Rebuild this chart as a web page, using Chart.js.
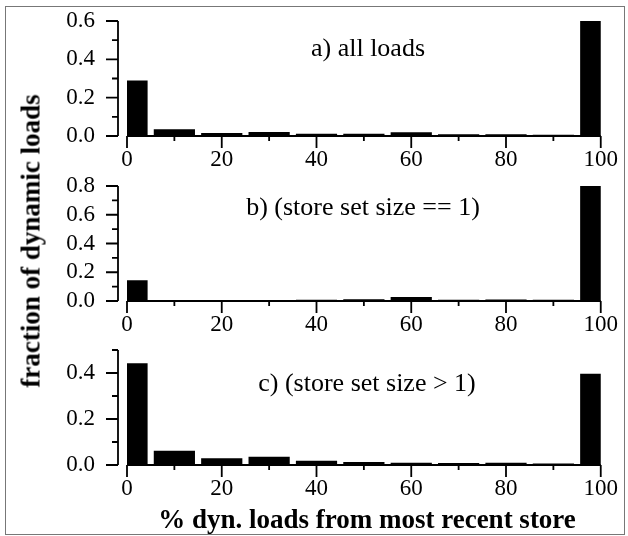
<!DOCTYPE html>
<html>
<head>
<meta charset="utf-8">
<script src="https://cdn.jsdelivr.net/npm/chart.js@4.4.1/dist/chart.umd.min.js"></script>
<style>
  body { margin: 0; background: #fff; }
  #fig { position: relative; width: 628px; height: 536px; }
  #frame { position: absolute; left: 5px; top: 6px; width: 620px; height: 529px; border: 1.5px solid #777; box-sizing: border-box; }
  canvas { position: absolute; left: 0; }
  .txt { position: absolute; font-family: "Liberation Serif", serif; white-space: nowrap; transform: translate(-50%, -50%); color: #000; }
  .sub { font-size: 26px; }
  .ttl { font-size: 27px; font-weight: bold; }
</style>
</head>
<body>
<div id="fig">
  <div id="frame"></div>
  <canvas id="chartA" width="628" height="170" style="top:1px"></canvas>
  <canvas id="chartB" width="628" height="170" style="top:166px"></canvas>
  <canvas id="chartC" width="628" height="170" style="top:330px"></canvas>
  <div class="txt sub" style="left:368px;top:48px">a) all loads</div>
  <div class="txt sub" style="left:363px;top:207px">b) (store set size == 1)</div>
  <div class="txt sub" style="left:367px;top:383px">c) (store set size &gt; 1)</div>
  <div class="txt ttl" style="left:367px;top:519px">% dyn. loads from most recent store</div>
  <div class="txt ttl" style="left:31px;top:241px;transform:translate(-50%,-50%) rotate(-90deg)">fraction of dynamic loads</div>
</div>
<script>
const bins = [0, 10, 20, 30, 40, 50, 60, 70, 80, 90, 100];
const allLoads = [0.290, 0.035, 0.016, 0.021, 0.012, 0.012, 0.019, 0.009, 0.009, 0.007, 0.600];
const setSizeOne = [0.145, 0.007, 0.007, 0.007, 0.009, 0.012, 0.028, 0.009, 0.011, 0.008, 0.800];
const setSizeMany = [0.442, 0.062, 0.029, 0.036, 0.019, 0.013, 0.010, 0.009, 0.010, 0.007, 0.397];

Chart.defaults.font.family = "Liberation Serif";
Chart.defaults.font.size = 23;
Chart.defaults.color = "#000";

// Origin-style axes: y axis sits a few px left of x = 0, short minor ticks
const originAxes = {
  id: "originAxes",
  afterDraw(chart) {
    const { ctx, chartArea } = chart;
    const x = chart.scales.x, y = chart.scales.y;
    const ax = chartArea.left - 9;
    const base = y.getPixelForValue(0);
    ctx.save();
    ctx.strokeStyle = "#000";
    ctx.lineWidth = 1.8;
    ctx.beginPath();
    ctx.moveTo(ax, chartArea.top);
    ctx.lineTo(ax, base);
    y.ticks.forEach(function (t) {
      const py = y.getPixelForValue(t.value);
      const len = Math.round(t.value * 10) % 2 === 0 ? 12 : 6;
      ctx.moveTo(ax - len, py);
      ctx.lineTo(ax, py);
    });
    ctx.moveTo(chartArea.left, base);
    ctx.lineTo(chartArea.right, base);
    x.ticks.forEach(function (t) {
      const px = x.getPixelForValue(t.value);
      const len = Math.round(t.value) % 20 === 0 ? 12 : 5;
      ctx.moveTo(px, base);
      ctx.lineTo(px, base + len);
    });
    ctx.stroke();
    ctx.restore();
  },
};

function makeChart(id, values, ymax) {
  return new Chart(document.getElementById(id), {
    type: "bar",
    data: {
      datasets: [
        {
          data: bins.map((b, i) => ({ x: b, y: values[i] })),
          backgroundColor: "#000",
          borderWidth: 0,
          barPercentage: 0.87,
          categoryPercentage: 1,
          clip: 0,
        },
      ],
    },
    options: {
      responsive: false,
      animation: false,
      layout: { padding: { top: 20, left: 47, right: 21, bottom: 0 } },
      scales: {
        x: {
          type: "linear",
          min: 0,
          max: 100,
          offset: false,
          grid: { display: false, drawTicks: false },
          border: { display: false },
          afterFit: (s) => { s.height = 35; },
          ticks: {
            stepSize: 10,
            padding: 10,
            maxRotation: 0,
            autoSkip: false,
            callback: (v) => (Math.round(v) % 20 === 0 ? v : ""),
          },
        },
        y: {
          min: 0,
          max: ymax,
          grid: { display: false, drawTicks: true, tickLength: 28 },
          border: { display: false },
          afterFit: (s) => { s.width = 80; },
          ticks: {
            stepSize: 0.1,
            padding: 4,
            autoSkip: false,
            callback: (v) => (Math.round(v * 10) % 2 === 0 ? v.toFixed(1) : ""),
          },
        },
      },
      plugins: { legend: { display: false }, tooltip: { enabled: false } },
    },
    plugins: [originAxes],
  });
}

makeChart("chartA", allLoads, 0.6);
makeChart("chartB", setSizeOne, 0.8);
makeChart("chartC", setSizeMany, 0.5);
</script>
</body>
</html>
